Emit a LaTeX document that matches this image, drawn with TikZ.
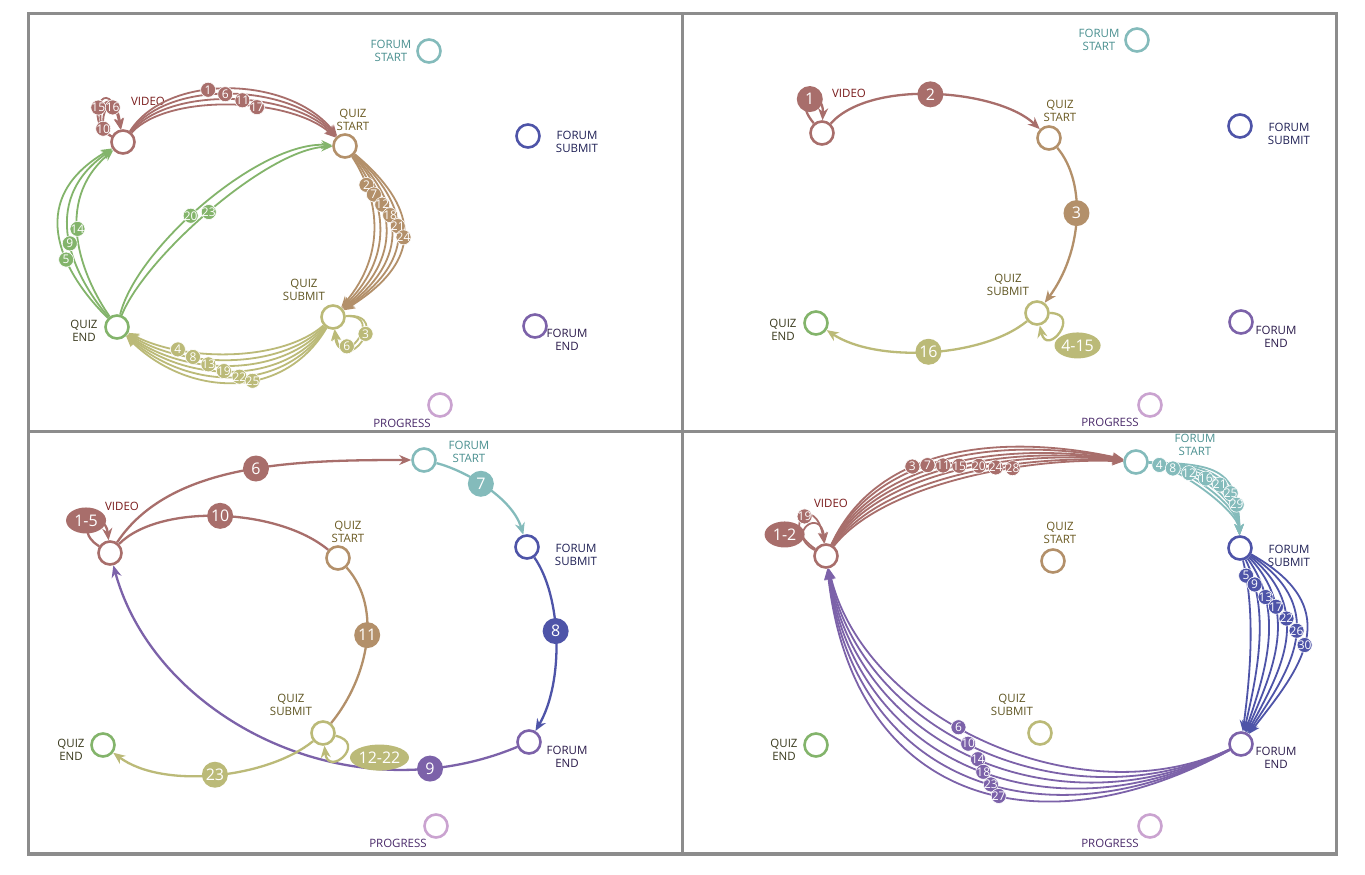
\documentclass[tikz,border=0pt]{standalone}
\usepackage{fontspec}
\setmainfont{Open Sans}
\usetikzlibrary{arrows.meta,shapes.geometric}
\definecolor{cvid}{HTML}{A86E6B}
\definecolor{cqs}{HTML}{B3906A}
\definecolor{cfs}{HTML}{84BBBB}
\definecolor{cfsub}{HTML}{4E54A8}
\definecolor{cqsub}{HTML}{BBBA78}
\definecolor{cqe}{HTML}{83B46B}
\definecolor{cfe}{HTML}{7C62A9}
\definecolor{cpr}{HTML}{CAA3D0}
\definecolor{tvid}{HTML}{7A1C1C}
\definecolor{tqs}{HTML}{6B5A22}
\definecolor{tfs}{HTML}{4A9090}
\definecolor{tfsub}{HTML}{1F2055}
\definecolor{tqsub}{HTML}{5F5522}
\definecolor{tqe}{HTML}{3A3A1E}
\definecolor{tfe}{HTML}{2B1B4B}
\definecolor{tpr}{HTML}{4B2B6B}
\definecolor{cframe}{HTML}{8C8C8C}
\begin{document}
\begin{tikzpicture}[x=1pt,y=-1pt,
  st/.style={circle,minimum size=23pt,inner sep=0pt,line width=2.6pt,fill=white,draw=#1},
  lab/.style={align=center,font=\fontsize{11.5}{12.5}\selectfont,inner sep=0pt,text=#1},
  ed/.style={line width=2.3pt,draw=#1,-{Stealth[length=12pt,width=10pt]}},
  ne/.style={line width=2.3pt,draw=#1},
  fn/.style={line width=1.8pt,draw=#1,-{Stealth[length=11pt,width=9pt]}},
  sb/.style={circle,fill=#1,draw=white,line width=0.6pt,text=white,font=\fontsize{12}{12}\selectfont,inner sep=-1.5pt,minimum size=15pt},
  bb/.style={circle,fill=#1,text=white,font=\fontsize{16}{16}\selectfont,inner sep=0pt,minimum size=26pt},
  eb/.style={ellipse,fill=#1,text=white,font=\fontsize{16}{16}\selectfont,inner sep=0pt,minimum height=26pt,minimum width=40pt}]

\useasboundingbox (0,0) rectangle (1365,875);
\fill[white] (0,0) rectangle (1365,875);
\draw[cframe,line width=3.5pt] (28.5,13.5) rectangle (1336.5,854);
\draw[cframe,line width=3.5pt] (682.5,13.5) -- (682.5,854);
\draw[cframe,line width=3.5pt] (28.5,431.5) -- (1336.5,431.5);

% ================= PANEL A (top left) =================
\node[st=cvid] (a-vid) at (123,142) {};
\node[lab=tvid] (a-vid-t) at (148,101) {VIDEO};
\node[st=cqs] (a-qs) at (345,146) {};
\node[lab=tqs] (a-qs-t) at (353,120) {QUIZ\\START};
\node[st=cfs] (a-fs) at (429,51) {};
\node[lab=tfs] (a-fs-t) at (391,51) {FORUM\\START};
\node[st=cfsub] (a-fsub) at (528,136) {};
\node[lab=tfsub] (a-fsub-t) at (577,142) {FORUM\\SUBMIT};
\node[st=cqsub] (a-qsub) at (333,317) {};
\node[lab=tqsub] (a-qsub-t) at (304,290) {QUIZ\\SUBMIT};
\node[st=cqe] (a-qe) at (117,327) {};
\node[lab=tqe] (a-qe-t) at (84,331) {QUIZ\\END};
\node[st=cfe] (a-fe) at (535,326) {};
\node[lab=tfe] (a-fe-t) at (567,340) {FORUM\\END};
\node[st=cpr] (a-pr) at (440,405) {};
\node[lab=tpr] (a-pr-t) at (402,423) {PROGRESS};

% video -> quiz start
\foreach \h in {70,63,56,49}
  \draw[fn=cvid] (a-vid) .. controls +(45,-\h) and +(-55,-\h) .. (a-qs);
% quiz start -> quiz submit
\foreach \a/\b in {33/55,38/65,44/75,49/85,55/95,60/105}
  \draw[fn=cqs] (a-qs) .. controls +(\a,50) and +(\b,-65) .. (a-qsub);
% quiz submit -> quiz end
\foreach \a/\b in {44/36,52/43,60/50,69/56,77/63,85/70}
  \draw[fn=cqsub] (a-qsub) .. controls +(-50,\a) and +(70,\b) .. (a-qe);
% quiz end -> video
\foreach \a/\b in {35/71,43/87,51/103}
  \draw[fn=cqe] (a-qe) .. controls +(-\a,-50) and +(-\b,60) .. (a-vid);
% quiz end -> quiz start
\draw[fn=cqe] (a-qe) .. controls +(20,-80) and +(-85,-5) .. (a-qs);
\draw[fn=cqe] (a-qe) .. controls +(28,-70) and +(-78,3) .. (a-qs);
% self loops
\draw[fn=cvid] (a-vid) .. controls +(-42,-20) and +(-15,-76) .. (a-vid);
\draw[fn=cvid] (a-vid) .. controls +(-37,-18) and +(-12,-69) .. (a-vid);
\draw[fn=cvid] (a-vid) .. controls +(-32,-16) and +(-9,-62) .. (a-vid);
\draw[fn=cqsub] (a-qsub) .. controls +(62,-5) and +(10,64) .. (a-qsub);
\draw[fn=cqsub] (a-qsub) .. controls +(55,-3) and +(6,58) .. (a-qsub);
% badges
\foreach \h/\p/\t in {70/0.41/1,63/0.48/6,56/0.55/11,49/0.61/17}
  \path (a-vid) .. controls +(45,-\h) and +(-55,-\h) .. node[sb=cvid,pos=\p] (a-vq\t) {\t} (a-qs);
\foreach \a/\b/\p/\t in {33/55/0.22/2,38/65/0.29/7,44/75/0.36/12,49/85/0.43/18,55/95/0.5/21,60/105/0.57/24}
  \path (a-qs) .. controls +(\a,50) and +(\b,-65) .. node[sb=cqs,pos=\p] (a-qq\t) {\t} (a-qsub);
\foreach \a/\b/\p/\t in {44/36/0.75/4,52/43/0.68/8,60/50/0.61/13,69/56/0.54/19,77/63/0.47/22,85/70/0.41/25}
  \path (a-qsub) .. controls +(-50,\a) and +(70,\b) .. node[sb=cqsub,pos=\p] (a-se\t) {\t} (a-qe);
\foreach \a/\b/\p/\t in {35/71/0.55/14,43/87/0.47/9,51/103/0.38/5}
  \path (a-qe) .. controls +(-\a,-50) and +(-\b,60) .. node[sb=cqe,pos=\p] (a-ev\t) {\t} (a-vid);
\path (a-qe) .. controls +(20,-80) and +(-85,-5) .. node[sb=cqe,pos=0.44] (a-eq20) {20} (a-qs);
\path (a-qe) .. controls +(28,-70) and +(-78,3) .. node[sb=cqe,pos=0.49] (a-eq23) {23} (a-qs);
\path (a-vid) .. controls +(-37,-18) and +(-12,-69) .. node[sb=cvid,pos=0.15] (a-vv10) {10} (a-vid);
\path (a-vid) .. controls +(-42,-20) and +(-15,-76) .. node[sb=cvid,pos=0.43] (a-vv15) {15} (a-vid);
\path (a-vid) .. controls +(-32,-16) and +(-9,-62) .. node[sb=cvid,pos=0.72] (a-vv16) {16} (a-vid);
\path (a-qsub) .. controls +(62,-5) and +(10,64) .. node[sb=cqsub,pos=0.4] (a-ss3) {3} (a-qsub);
\path (a-qsub) .. controls +(55,-3) and +(6,58) .. node[sb=cqsub,pos=0.7] (a-ss6) {6} (a-qsub);

% ================= PANEL B (top right) =================
\node[st=cvid] (b-vid) at (822,133) {};
\node[lab=tvid] (b-vid-t) at (849,93) {VIDEO};
\node[st=cqs] (b-qs) at (1049,138) {};
\node[lab=tqs] (b-qs-t) at (1060,111) {QUIZ\\START};
\node[st=cfs] (b-fs) at (1137,40) {};
\node[lab=tfs] (b-fs-t) at (1099,40) {FORUM\\START};
\node[st=cfsub] (b-fsub) at (1240,126) {};
\node[lab=tfsub] (b-fsub-t) at (1289,134) {FORUM\\SUBMIT};
\node[st=cqsub] (b-qsub) at (1037,313) {};
\node[lab=tqsub] (b-qsub-t) at (1008,285) {QUIZ\\SUBMIT};
\node[st=cqe] (b-qe) at (816,323) {};
\node[lab=tqe] (b-qe-t) at (783,330) {QUIZ\\END};
\node[st=cfe] (b-fe) at (1241,322) {};
\node[lab=tfe] (b-fe-t) at (1276,337) {FORUM\\END};
\node[st=cpr] (b-pr) at (1150,405) {};
\node[lab=tpr] (b-pr-t) at (1110,422) {PROGRESS};

\draw[ed=cvid] (b-vid) .. controls +(-32,-38) and +(2,-45) .. node[bb=cvid,pos=0.5] (b-l1) {1} (b-vid);
\draw[ed=cvid] (b-vid) .. controls +(50,-55) and +(-50,-48) .. node[bb=cvid,pos=0.48] (b-l2) {2} (b-qs);
\draw[ed=cqs] (b-qs) .. controls +(38,45) and +(45,-60) .. node[bb=cqs,pos=0.46] (b-l3) {3} (b-qsub);
\draw[ed=cqsub] (b-qsub) .. controls +(45,0) and +(10,45) .. node[eb=cqsub,pos=0.5,xshift=18pt,yshift=-14pt] (b-l415) {4-15} (b-qsub);
\draw[ed=cqsub] (b-qsub) .. controls +(-55,45) and +(60,40) .. node[bb=cqsub,pos=0.5] (b-l16) {16} (b-qe);

% ================= PANEL C (bottom left) =================
\node[st=cvid] (c-vid) at (110,553) {};
\node[lab=tvid] (c-vid-t) at (122,506) {VIDEO};
\node[st=cqs] (c-qs) at (338,558) {};
\node[lab=tqs] (c-qs-t) at (348,532) {QUIZ\\START};
\node[st=cfs] (c-fs) at (424,460) {};
\node[lab=tfs] (c-fs-t) at (469,452) {FORUM\\START};
\node[st=cfsub] (c-fsub) at (527,547) {};
\node[lab=tfsub] (c-fsub-t) at (576,555) {FORUM\\SUBMIT};
\node[st=cqsub] (c-qsub) at (323,733) {};
\node[lab=tqsub] (c-qsub-t) at (291,705) {QUIZ\\SUBMIT};
\node[st=cqe] (c-qe) at (103,745) {};
\node[lab=tqe] (c-qe-t) at (71,750) {QUIZ\\END};
\node[st=cfe] (c-fe) at (529,742) {};
\node[lab=tfe] (c-fe-t) at (567,757) {FORUM\\END};
\node[st=cpr] (c-pr) at (436,826) {};
\node[lab=tpr] (c-pr-t) at (398,843) {PROGRESS};

\draw[ed=cfe] (c-fe) .. controls +(-180,75) and +(45,165) .. (c-vid);
\draw[ed=cvid] (c-vid) .. controls +(-40,-25) and +(-5,-45) .. (c-vid);
\draw[ed=cvid] (c-vid) .. controls +(60,-90) and +(-130,0) .. (c-fs);
\draw[ed=cfs] (c-fs) .. controls +(40,10) and +(-15,-50) .. (c-fsub);
\draw[ed=cfsub] (c-fsub) .. controls +(35,50) and +(35,-60) .. (c-fe);
\draw[ne=cvid] (c-vid) .. controls +(50,-50) and +(-60,-50) .. (c-qs);
\draw[ne=cqs] (c-qs) .. controls +(45,50) and +(45,-55) .. (c-qsub);
\draw[ed=cqsub] (c-qsub) .. controls +(45,10) and +(5,45) .. (c-qsub);
\draw[ed=cqsub] (c-qsub) .. controls +(-55,45) and +(60,45) .. (c-qe);
\path (c-fe) .. controls +(-180,75) and +(45,165) .. node[bb=cfe,pos=0.17] (c-l9) {9} (c-vid);
\path (c-vid) .. controls +(-40,-25) and +(-5,-45) .. node[eb=cvid,pos=0.45,xshift=-4pt,yshift=5pt] (c-l15) {1-5} (c-vid);
\path (c-vid) .. controls +(60,-90) and +(-130,0) .. node[bb=cvid,pos=0.55] (c-l6) {6} (c-fs);
\path (c-fs) .. controls +(40,10) and +(-15,-50) .. node[bb=cfs,pos=0.45] (c-l7) {7} (c-fsub);
\path (c-fsub) .. controls +(35,50) and +(35,-60) .. node[bb=cfsub,pos=0.45] (c-l8) {8} (c-fe);
\path (c-vid) .. controls +(50,-50) and +(-60,-50) .. node[bb=cvid,pos=0.5] (c-l10) {10} (c-qs);
\path (c-qs) .. controls +(45,50) and +(45,-55) .. node[bb=cqs,pos=0.45] (c-l11) {11} (c-qsub);
\path (c-qsub) .. controls +(45,10) and +(5,45) .. node[eb=cqsub,pos=0.5,xshift=36pt,yshift=-2pt] (c-l1222) {12-22} (c-qsub);
\path (c-qsub) .. controls +(-55,45) and +(60,45) .. node[bb=cqsub,pos=0.5] (c-l23) {23} (c-qe);

% ================= PANEL D (bottom right) =================
\node[st=cvid] (d-vid) at (826,556) {};
\node[lab=tvid] (d-vid-t) at (831,503) {VIDEO};
\node[st=cqs] (d-qs) at (1053,561) {};
\node[lab=tqs] (d-qs-t) at (1060,533) {QUIZ\\START};
\node[st=cfs] (d-fs) at (1136,462) {};
\node[lab=tfs] (d-fs-t) at (1195,445) {FORUM\\START};
\node[st=cfsub] (d-fsub) at (1240,548) {};
\node[lab=tfsub] (d-fsub-t) at (1289,556) {FORUM\\SUBMIT};
\node[st=cqsub] (d-qsub) at (1040,733) {};
\node[lab=tqsub] (d-qsub-t) at (1012,705) {QUIZ\\SUBMIT};
\node[st=cqe] (d-qe) at (816,745) {};
\node[lab=tqe] (d-qe-t) at (784,750) {QUIZ\\END};
\node[st=cfe] (d-fe) at (1241,744) {};
\node[lab=tfe] (d-fe-t) at (1276,758) {FORUM\\END};
\node[st=cpr] (d-pr) at (1150,826) {};
\node[lab=tpr] (d-pr-t) at (1110,843) {PROGRESS};

% video -> forum start
\foreach \a/\b in {121/25,113/22,104/18,96/15,88/12,79/8,71/5}
  \draw[fn=cvid] (d-vid) .. controls +(56,-\a) and +(-112,-\b) .. (d-fs);
% forum start -> forum submit
\foreach \a in {38,45,52,59,66,73,80}
  \draw[fn=cfs] (d-fs) .. controls +(\a,2) and +(-2,-\a) .. (d-fsub);
% forum submit -> forum end
\foreach \a/\b in {15/10,30/17,45/25,60/32,75/40,92/48,110/57}
  \draw[fn=cfsub] (d-fsub) .. controls +(\a,62) and +(\b,-73) .. (d-fe);
% forum end -> video
\foreach \a/\b/\c/\d in {162/75/37/162,170/82/35/179,178/89/33/196,186/96/31/213,194/103/29/230,202/110/27/247}
  \draw[fn=cfe] (d-fe) .. controls +(-\a,\b) and +(\c,\d) .. (d-vid);
% video loops
\draw[fn=cvid] (d-vid) .. controls +(-48,-32) and +(-10,-64) .. (d-vid);
\draw[fn=cvid] (d-vid) .. controls +(-42,-22) and +(-5,-50) .. (d-vid);
% badges
\foreach \a/\b/\p/\t in {121/25/0.35/3,113/22/0.40/7,104/18/0.45/11,96/15/0.50/15,88/12/0.56/20,79/8/0.61/24,71/5/0.66/28}
  \path (d-vid) .. controls +(56,-\a) and +(-112,-\b) .. node[sb=cvid,pos=\p] (d-vf\t) {\t} (d-fs);
\foreach \a/\p/\t in {38/0.12/4,45/0.22/8,52/0.33/12,59/0.45/16,66/0.57/21,73/0.7/25,80/0.82/29}
  \path (d-fs) .. controls +(\a,2) and +(-2,-\a) .. node[sb=cfs,pos=\p] (d-ff\t) {\t} (d-fsub);
\foreach \a/\b/\p/\t in {15/10/0.1/5,30/17/0.16/9,45/25/0.24/13,60/32/0.3/17,75/40/0.37/22,92/48/0.44/26,110/57/0.52/30}
  \path (d-fsub) .. controls +(\a,62) and +(\b,-73) .. node[sb=cfsub,pos=\p] (d-se\t) {\t} (d-fe);
\foreach \a/\b/\c/\d/\p/\t in {162/75/37/162/0.56/6,170/82/35/179/0.53/10,178/89/33/196/0.5/14,186/96/31/213/0.48/18,194/103/29/230/0.455/23,202/110/27/247/0.43/27}
  \path (d-fe) .. controls +(-\a,\b) and +(\c,\d) .. node[sb=cfe,pos=\p] (d-ev\t) {\t} (d-vid);
\path (d-vid) .. controls +(-48,-32) and +(-10,-64) .. node[sb=cvid,pos=0.55] (d-vv19) {19} (d-vid);
\path (d-vid) .. controls +(-42,-22) and +(-5,-50) .. node[eb=cvid,pos=0.3,xshift=-18pt] (d-vv12) {1-2} (d-vid);

\end{tikzpicture}
\end{document}
